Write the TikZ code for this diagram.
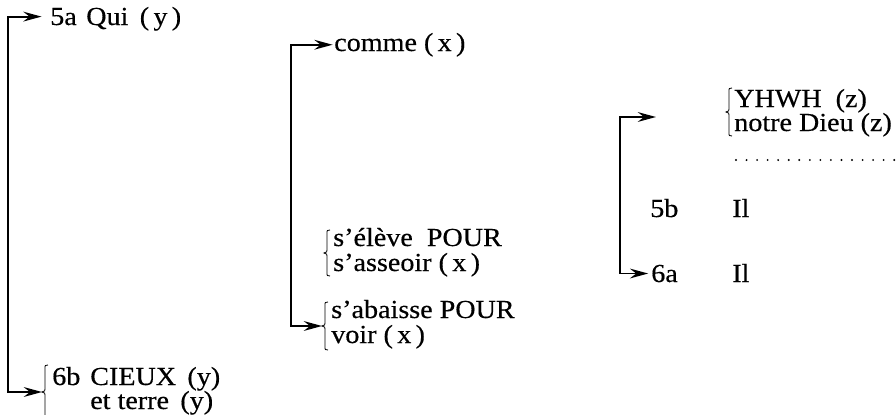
\documentclass[tikz,border=0pt]{standalone}
\usepackage{fontspec}
\setmainfont{Liberation Serif}[FakeStretch=1.08,FakeBold=0.4]
\usetikzlibrary{arrows.meta}
\tikzset{
  txt/.style={anchor=base west,inner sep=0pt,font=\fontsize{18.5}{20}\selectfont},
  bracket/.style={line width=1.3pt,-{Stealth[length=13pt,width=7pt,inset=4.5pt]}},
  bracewidth/.style={line width=0.6pt},
  dotline/.style={line width=1.5pt,line cap=round,dash pattern=on 0pt off 7.5pt},
  pics/lbrace/.style={code={
    \draw[bracewidth] (3,{-#1}) .. controls (0,{-#1}) .. (0,{-#1+4}) -- (0,-3)
      .. controls (0,-1) .. (-3,0) .. controls (0,1) .. (0,3)
      -- (0,{#1-4}) .. controls (0,{#1}) .. (3,{#1});
    \coordinate (-tip) at (-3,0);
  }}
}
\begin{document}
\begin{tikzpicture}[x=0.025cm,y=-0.025cm]
\useasboundingbox (0,0) rectangle (896,415);

% left column
\node[txt] (n5a) at (50,25) {5a};
\node[txt] (nqui) at (86,25) {Qui\ \,(\,y\,)};
\pic (b6b) at (45,392) {lbrace=27};
\node[txt] (n6b) at (52,385) {6b};
\node[txt] (ncieux) at (90,385) {CIEUX\ \,(y)};
\node[txt] (nterre) at (90,409) {et terre\ \,(y)};
\coordinate (Lmid) at (8,200);
\draw[bracket,shorten >=6pt] (Lmid) |- (n5a.west);
\draw[bracket] (Lmid) |- (b6b-tip);

% middle column
\node[txt] (ncomme) at (334,51) {comme (\,x\,)};
\pic (belev) at (327,253) {lbrace=23};
\node[txt] (nelev) at (333,246) {s'élève\ \ POUR};
\node[txt] (nass) at (333,271) {s'asseoir (\,x\,)};
\pic (baba) at (325,326) {lbrace=24};
\node[txt] (naba) at (331,318) {s'abaisse POUR};
\node[txt] (nvoir) at (331,343) {voir (\,x\,)};
\coordinate (Mmid) at (291,200);
\draw[bracket,shorten >=1pt] (Mmid) |- (ncomme.west);
\draw[bracket] (Mmid) |- (baba-tip);

% right column
\pic (bz) at (729,112) {lbrace=24};
\node[txt] (nyhwh) at (734,107) {YHWH\ \ (z)};
\node[txt] (ndieu) at (734,131) {notre Dieu (z)};
\coordinate (dotA) at (736,160);
\coordinate (dotB) at (896,160);
\draw[dotline] (dotA) -- (dotB);
\node[txt] (n5b) at (650,217) {5b};
\node[txt] (nil1) at (732,217) {Il};
\node[txt] (n6a) at (651,282) {6a};
\node[txt] (nil2) at (732,282) {Il};
\coordinate (tz) at (656,117);
\coordinate (Rmid) at (620,200);
\draw[bracket] (Rmid) |- (tz);
\draw[bracket,shorten >=2pt] (Rmid) |- (n6a.west);
\end{tikzpicture}
\end{document}
